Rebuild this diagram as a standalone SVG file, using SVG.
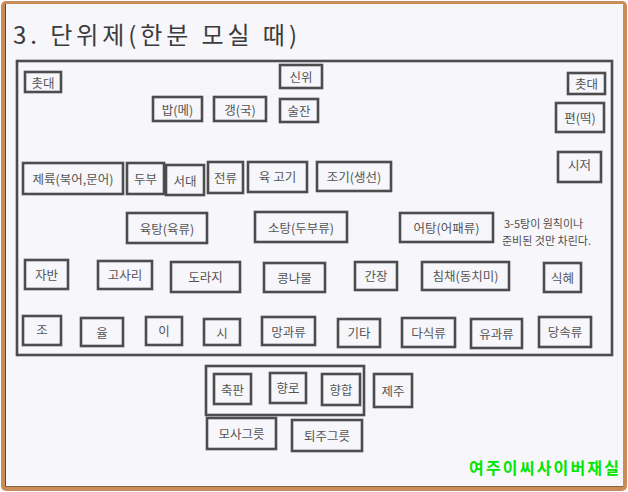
<svg xmlns="http://www.w3.org/2000/svg" width="628" height="492" viewBox="0 0 628 492">
<style>
.b{fill:none;stroke:#4d4d4d;stroke-width:2.6}
.t{font-family:"Noto Sans CJK KR","Noto Sans",sans-serif;font-size:12.5px;fill:#555555;text-anchor:middle;dominant-baseline:central}
.n{font-family:"Noto Sans CJK KR","Noto Sans",sans-serif;font-size:11px;fill:#505050}
</style>
<rect x="0" y="0" width="628" height="492" fill="#ffffff"/>
<rect x="1" y="1" width="626" height="490" rx="5" fill="#c98b57"/>
<rect x="5" y="4" width="618" height="483" fill="#f6f6fb"/>
<line x1="5.5" y1="4" x2="5.5" y2="487" stroke="#5a4a3a" stroke-width="1"/>
<line x1="5" y1="486.5" x2="623" y2="486.5" stroke="#8a6040" stroke-width="1"/>
<text x="13" y="44" font-family="'Noto Sans CJK KR','Noto Sans',sans-serif" font-size="24" fill="#3c3c3c" textLength="284" lengthAdjust="spacing">3. 단위제(한분 모실 때)</text>
<g id="table"><rect class="b" x="17" y="61" width="595" height="294"/></g>
<g id="chotdae-l"><rect class="b" x="25" y="72" width="36" height="20"/><text class="t" x="43" y="82">촛대</text></g>
<g id="sinwi"><rect class="b" x="280" y="65" width="42" height="23"/><text class="t" x="301" y="76.5">신위</text></g>
<g id="bap"><rect class="b" x="153" y="97" width="49" height="24"/><text class="t" x="177.5" y="109">밥(메)</text></g>
<g id="gaeng"><rect class="b" x="214" y="97" width="52" height="24"/><text class="t" x="240" y="109">갱(국)</text></g>
<g id="suljan"><rect class="b" x="280" y="99" width="38" height="23"/><text class="t" x="299" y="110.5">술잔</text></g>
<g id="chotdae-r"><rect class="b" x="568" y="73" width="37" height="21"/><text class="t" x="586.5" y="83.5">촛대</text></g>
<g id="pyeon"><rect class="b" x="556" y="103" width="48" height="29"/><text class="t" x="580" y="117.5">편(떡)</text></g>
<g id="sijeo"><rect class="b" x="558" y="152" width="43" height="30"/><text class="t" x="579.5" y="164">시저</text></g>
<g id="jeryuk"><rect class="b" x="23" y="163" width="100" height="31"/><text class="t" x="73" y="178.5">제륙(북어,문어)</text></g>
<g id="dubu"><rect class="b" x="127" y="163" width="37" height="31"/><text class="t" x="145.5" y="178.5">두부</text></g>
<g id="seodae"><rect class="b" x="166" y="165" width="38" height="30"/><text class="t" x="185" y="180">서대</text></g>
<g id="jeonryu"><rect class="b" x="208" y="162" width="35" height="31"/><text class="t" x="225.5" y="177">전류</text></g>
<g id="yukgogi"><rect class="b" x="248" y="162" width="59" height="30"/><text class="t" x="277.5" y="176">육 고기</text></g>
<g id="jogi"><rect class="b" x="317" y="162" width="74" height="29"/><text class="t" x="354" y="176">조기(생선)</text></g>
<g id="yuktang"><rect class="b" x="127" y="213" width="80" height="30"/><text class="t" x="167" y="228">육탕(육류)</text></g>
<g id="sotang"><rect class="b" x="255" y="212" width="92" height="30"/><text class="t" x="301" y="227">소탕(두부류)</text></g>
<g id="eotang"><rect class="b" x="400" y="213" width="93" height="29"/><text class="t" x="446.5" y="227.5">어탕(어패류)</text></g>
<g id="note"><text class="n" x="504" y="228">3-5탕이 원칙이나</text><text class="n" x="502" y="245">준비된 것만 차린다.</text></g>
<g id="jaban"><rect class="b" x="25" y="260" width="43" height="29"/><text class="t" x="46.5" y="274">자반</text></g>
<g id="gosari"><rect class="b" x="98" y="261" width="54" height="28"/><text class="t" x="125" y="274.5">고사리</text></g>
<g id="doraji"><rect class="b" x="171" y="262" width="69" height="30"/><text class="t" x="205.5" y="276">도라지</text></g>
<g id="kongnamul"><rect class="b" x="264" y="263" width="61" height="29"/><text class="t" x="294.5" y="277">콩나물</text></g>
<g id="ganjang"><rect class="b" x="355" y="262" width="42" height="28"/><text class="t" x="376" y="275.5">간장</text></g>
<g id="chimchae"><rect class="b" x="422" y="262" width="87" height="28"/><text class="t" x="465.5" y="275.5">침채(동치미)</text></g>
<g id="sikhye"><rect class="b" x="544" y="263" width="37" height="29"/><text class="t" x="562.5" y="277.5">식혜</text></g>
<g id="jo"><rect class="b" x="23" y="316" width="38" height="29"/><text class="t" x="42" y="329.5">조</text></g>
<g id="yul"><rect class="b" x="81" y="318" width="42" height="28"/><text class="t" x="102" y="332">율</text></g>
<g id="i"><rect class="b" x="146" y="317" width="36" height="28"/><text class="t" x="164" y="330.5">이</text></g>
<g id="si"><rect class="b" x="204" y="319" width="36" height="26"/><text class="t" x="222" y="332">시</text></g>
<g id="manggwa"><rect class="b" x="262" y="317" width="53" height="28"/><text class="t" x="288.5" y="331">망과류</text></g>
<g id="gita"><rect class="b" x="338" y="319" width="42" height="28"/><text class="t" x="359" y="332.5">기타</text></g>
<g id="dasik"><rect class="b" x="402" y="318" width="53" height="29"/><text class="t" x="428.5" y="332">다식류</text></g>
<g id="yugwa"><rect class="b" x="471" y="319" width="51" height="29"/><text class="t" x="496.5" y="333">유과류</text></g>
<g id="dangsok"><rect class="b" x="539" y="317" width="52" height="30"/><text class="t" x="565" y="331">당속류</text></g>
<g id="ritual-group"><rect class="b" x="206" y="366" width="158" height="49"/></g>
<g id="chukpan"><rect class="b" x="214" y="374" width="37" height="30"/><text class="t" x="232.5" y="389">축판</text></g>
<g id="hyangro"><rect class="b" x="270" y="373" width="36" height="30"/><text class="t" x="288" y="387.5">향로</text></g>
<g id="hyanghap"><rect class="b" x="322" y="374" width="38" height="31"/><text class="t" x="341" y="389">향합</text></g>
<g id="jeju"><rect class="b" x="374" y="374" width="38" height="33"/><text class="t" x="393" y="390">제주</text></g>
<g id="mosa"><rect class="b" x="207" y="418" width="69" height="31"/><text class="t" x="241.5" y="433">모사그릇</text></g>
<g id="toeju"><rect class="b" x="292" y="420" width="70" height="31"/><text class="t" x="327" y="435.5">퇴주그릇</text></g>
<g id="connectors"></g>
<text x="469" y="474" font-family="'Noto Sans CJK KR','Noto Sans',sans-serif" font-size="16" font-weight="bold" fill="#00e600" textLength="150" lengthAdjust="spacing">여주이씨사이버재실</text>
</svg>
